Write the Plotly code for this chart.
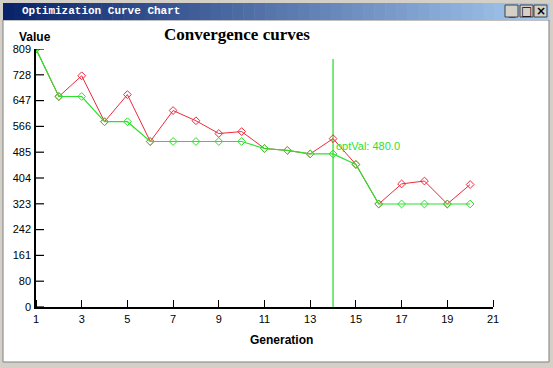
import plotly.graph_objects as go

# ---- data ----
generations = list(range(1, 21))
current_values = [809, 660, 725, 581, 666, 519, 616, 584, 544, 550,
                  497, 491, 480, 528, 447, 323, 386, 395, 323, 384]
best_values = [809, 660, 660, 581, 581, 519, 519, 519, 519, 519,
               497, 491, 480, 480, 447, 323, 323, 323, 323, 323]
opt_gen_x = [14, 14]
opt_gen_y = [0, 778]
opt_label = "optVal: 480.0"
opt_label_y = 506
x_tickvals = [1, 3, 5, 7, 9, 11, 13, 15, 17, 19, 21]
y_ticktext = ["0", "80", "161", "242", "323", "404", "485", "566", "647", "728", "809"]
y_max = 809
chart_title = "Convergence curves"
window_title = "Optimization Curve Chart"

W, H = 553, 368
L, R, T, B = 36, 493, 49, 307  # plot area pixels


def px(x):
    return (x - L) / (R - L)


def py(y):
    return (B - y) / (B - T)


RED = "#ee2a3c"
GREEN = "#2ee02e"
y_tickvals = [i * y_max / 10 for i in range(11)]

fig = go.Figure()
fig.add_trace(go.Scatter(x=opt_gen_x, y=opt_gen_y, mode="lines",
                         line=dict(color=GREEN, width=1.3), hoverinfo="skip",
                         showlegend=False))
fig.add_trace(go.Scatter(x=generations, y=current_values, mode="lines+markers",
                         line=dict(color=RED, width=1),
                         marker=dict(symbol="diamond-open", size=6, color=RED,
                                     line=dict(width=1, color=RED)),
                         showlegend=False))
fig.add_trace(go.Scatter(x=generations, y=best_values, mode="lines+markers",
                         line=dict(color=GREEN, width=1.2),
                         marker=dict(symbol="diamond-open", size=6, color=GREEN,
                                     line=dict(width=1, color=GREEN)),
                         showlegend=False))

shapes = []
# window frame
frame = "#d4d0c8"
shapes.append(dict(type="rect", xref="paper", yref="paper", x0=px(0), x1=px(553),
                   y0=py(368), y1=py(0), fillcolor=frame, line=dict(width=0), layer="below"))
shapes.append(dict(type="rect", xref="paper", yref="paper", x0=px(3), x1=px(549),
                   y0=py(362), y1=py(20), fillcolor="white",
                   line=dict(width=1, color="#808080"), layer="below"))
# title bar gradient
c0 = (10, 36, 106)
c1 = (166, 202, 240)
n = 50
x_start, x_end = 3, 549
for i in range(n):
    t = i / (n - 1)
    col = tuple(int(c0[k] + (c1[k] - c0[k]) * t) for k in range(3))
    xa = x_start + (x_end - x_start) * i / n
    xb = x_start + (x_end - x_start) * (i + 1) / n + 0.5
    shapes.append(dict(type="rect", xref="paper", yref="paper", x0=px(xa), x1=px(xb),
                       y0=py(20), y1=py(3), fillcolor="rgb(%d,%d,%d)" % col,
                       line=dict(width=0), layer="below"))
# buttons
for bx in [505, 520, 534]:
    shapes.append(dict(type="rect", xref="paper", yref="paper", x0=px(bx), x1=px(bx + 13),
                       y0=py(17), y1=py(5), fillcolor=frame,
                       line=dict(width=1, color="#404040"), layer="above"))
# y-axis tick marks pointing into the plot (drawn in axis units)
x_min = x_tickvals[0]
tick_len_units = 8 * (x_tickvals[-1] - x_min) / (R - L)
for v in y_tickvals:
    shapes.append(dict(type="line", xref="x", yref="y", x0=x_min, x1=x_min + tick_len_units,
                       y0=v, y1=v, line=dict(color="black", width=1.2), layer="above"))

annotations = [
    dict(text="<b>" + window_title + "</b>", xref="paper", yref="paper", x=px(20), y=py(11),
         xanchor="left", yanchor="middle", showarrow=False,
         font=dict(family="Liberation Mono", size=11, color="white")),
    dict(text="<b>_</b>", xref="paper", yref="paper", x=px(511.5), y=py(12), showarrow=False,
         xanchor="center", yanchor="middle",
         font=dict(family="Liberation Sans", size=11, color="black")),
    dict(text="□", xref="paper", yref="paper", x=px(526.5), y=py(11), showarrow=False,
         xanchor="center", yanchor="middle",
         font=dict(family="DejaVu Sans", size=12, color="black")),
    dict(text="<b>×</b>", xref="paper", yref="paper", x=px(540.5), y=py(11), showarrow=False,
         xanchor="center", yanchor="middle",
         font=dict(family="DejaVu Sans", size=12, color="black")),
    dict(text="<b>" + chart_title + "</b>", xref="paper", yref="paper", x=px(237), y=py(35),
         xanchor="center", yanchor="middle",
         showarrow=False, font=dict(family="Liberation Serif", size=17, color="black")),
    dict(text="<b>Value</b>", xref="paper", yref="paper", x=px(35), y=py(37),
         xanchor="center", yanchor="middle",
         showarrow=False, font=dict(family="Liberation Sans", size=12, color="black")),
    dict(text="<b>Generation</b>", xref="paper", yref="paper", x=px(281), y=py(340),
         xanchor="center", yanchor="middle",
         showarrow=False, font=dict(family="Liberation Sans", size=12, color="black")),
    dict(text=opt_label, xref="x", yref="y", x=opt_gen_x[0], y=opt_label_y, xanchor="left",
         yanchor="middle", xshift=1, showarrow=False,
         font=dict(family="Liberation Sans", size=11, color=GREEN)),
]

fig.update_layout(
    width=W, height=H,
    margin=dict(l=L, r=W - R, t=T, b=H - B, pad=0, autoexpand=False),
    paper_bgcolor=frame, plot_bgcolor="rgba(0,0,0,0)",
    shapes=shapes, annotations=annotations,
    font=dict(family="Liberation Sans", size=11, color="black"),
    xaxis=dict(range=[1, 21], tickvals=x_tickvals, ticks="", showline=True,
               linecolor="black", linewidth=1.5, showgrid=False, zeroline=False,
               tickfont=dict(size=11), automargin=False, ticklabelstandoff=1),
    yaxis=dict(range=[0, y_max], tickvals=y_tickvals, ticktext=y_ticktext, ticks="",
               showline=True, linecolor="black", linewidth=1.5, showgrid=False,
               zeroline=False, tickfont=dict(size=11), automargin=False,
               ticklabelstandoff=1),
    # tick-only overlay axis so x tick marks point into the plot area
    xaxis2=dict(overlaying="x", side="top", anchor="free", position=0,
                range=[1, 21], tickvals=x_tickvals, ticks="outside", ticklen=7,
                tickcolor="black", tickwidth=1, showticklabels=False, showline=False,
                showgrid=False, zeroline=False, automargin=False),
)
# invisible trace to activate the overlay axis
fig.add_trace(go.Scatter(x=[None], y=[None], xaxis="x2", yaxis="y", showlegend=False,
                         hoverinfo="skip"))

fig.write_html("out.html", config={"displayModeBar": False},
               post_script="document.body.style.margin='0';document.body.style.overflow='hidden';")
